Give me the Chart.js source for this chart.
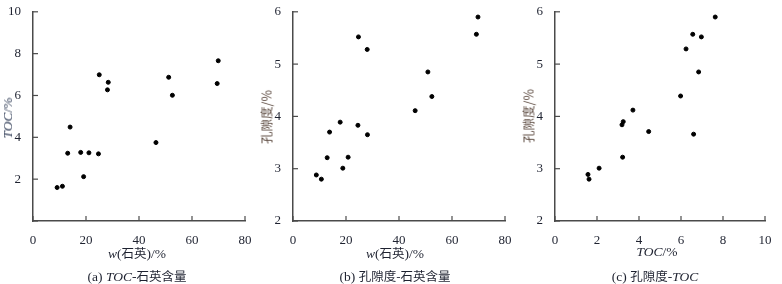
<!DOCTYPE html>
<html><head><meta charset="utf-8">
<script src="https://cdn.jsdelivr.net/npm/chart.js@4/dist/chart.umd.min.js"></script>
<style>
html,body{margin:0;padding:0;background:#fff;}
#wrap{position:relative;width:782px;height:284px;overflow:hidden;font-family:"Liberation Serif","Noto Sans CJK SC",serif;}
canvas{position:absolute;top:0;}
.t{position:absolute;white-space:nowrap;font-size:13.5px;color:#1e2230;transform:translate(-50%,-50%);}
.yt{position:absolute;white-space:nowrap;font-size:13.5px;transform:translate(-50%,-50%) rotate(-90deg);}
.cn{font-family:"Noto Sans CJK SC",sans-serif;font-size:12.5px;}
i{font-style:italic;}
</style></head><body>
<div id="wrap">
<canvas id="ca" width="260" height="284" style="left:0px"></canvas>
<canvas id="cb" width="260" height="284" style="left:260px"></canvas>
<canvas id="cc" width="267" height="284" style="left:515px"></canvas>

<div class="yt" style="left:8px;top:118px;color:#34405a"><i>TOC</i>/%</div>
<div class="yt cn" style="left:266px;top:117px;color:#5e4c42">孔隙度/%</div>
<div class="yt cn" style="left:528px;top:116px;color:#5e4c42">孔隙度/%</div>

<div class="t" style="left:137px;top:252px"><i>w</i>(<span class="cn">石英</span>)/%</div>
<div class="t" style="left:395px;top:252px"><i>w</i>(<span class="cn">石英</span>)/%</div>
<div class="t" style="left:657px;top:252px"><i>TOC</i>/%</div>

<div class="t" style="left:137px;top:275px">(a) <i>TOC</i>-<span class="cn">石英含量</span></div>
<div class="t" style="left:395px;top:275px">(b) <span class="cn">孔隙度-石英含量</span></div>
<div class="t" style="left:655px;top:275px">(c) <span class="cn">孔隙度</span>-<i>TOC</i></div>
</div>
<script>
// Panel (a): TOC vs quartz content
const quartzA = [9.1, 11.1, 13.1, 14.0, 18.0, 19.1, 21.1, 24.7, 25.0, 28.4, 28.1, 46.4, 51.2, 52.6, 69.5, 69.9];
const tocA    = [1.60, 1.66, 3.24, 4.49, 3.28, 2.12, 3.26, 3.21, 6.99, 6.63, 6.27, 3.75, 6.87, 6.01, 6.57, 7.66];
// Panel (b): porosity vs quartz content
const quartzB = [8.8, 10.7, 12.9, 13.8, 17.8, 18.8, 20.8, 24.5, 24.7, 28.0, 28.1, 46.1, 50.9, 52.4, 69.2, 69.8];
const porB    = [2.88, 2.80, 3.21, 3.70, 3.89, 3.01, 3.22, 3.83, 5.52, 5.28, 3.65, 4.11, 4.85, 4.38, 5.57, 5.90];
// Panel (c): porosity vs TOC
const tocC    = [1.57, 1.62, 2.10, 3.22, 3.19, 3.25, 3.71, 4.46, 5.98, 6.24, 6.56, 6.97, 6.84, 6.60, 7.63];
const porC    = [2.89, 2.80, 3.01, 3.22, 3.84, 3.90, 4.12, 3.71, 4.39, 5.29, 5.57, 5.52, 4.85, 3.66, 5.90];
// Axis ranges / tick steps
const xRangeA = [0, 80, 20], yRangeA = [0, 10, 2];
const xRangeB = [0, 80, 20], yRangeB = [2, 6, 1];
const xRangeC = [0, 10, 2],  yRangeC = [2, 6, 1];

const AXIS = '#4a4a4a';
const innerTicks = {
  id: 'innerTicks',
  afterDraw(chart) {
    const ctx = chart.ctx, a = chart.chartArea;
    ctx.save();
    ctx.strokeStyle = AXIS; ctx.lineWidth = 1.2;
    const xs = chart.scales.x, ys = chart.scales.y;
    xs.ticks.forEach(t => {
      const p = xs.getPixelForValue(t.value);
      ctx.beginPath(); ctx.moveTo(p, a.bottom); ctx.lineTo(p, a.bottom - 5); ctx.stroke();
    });
    ys.ticks.forEach(t => {
      const p = ys.getPixelForValue(t.value);
      ctx.beginPath(); ctx.moveTo(a.left, p); ctx.lineTo(a.left + 5, p); ctx.stroke();
    });
    ctx.restore();
  }
};

function make(id, xs, ys, xr, yr, leftW, rightPad, hideY0) {
  const data = xs.map((v, i) => ({x: v, y: ys[i]}));
  const font = {family: '"Liberation Serif", serif', size: 13};
  new Chart(document.getElementById(id), {
    type: 'scatter',
    data: {datasets: [{data, backgroundColor: '#000', borderColor: '#000', pointRadius: 2, pointHoverRadius: 2, clip: false}]},
    options: {
      responsive: false, animation: false,
      layout: {padding: {top: 10, right: rightPad, left: 0, bottom: 0}},
      plugins: {legend: {display: false}, tooltip: {enabled: false}},
      scales: {
        x: {type: 'linear', min: xr[0], max: xr[1],
            ticks: {stepSize: xr[2], color: '#1e2230', font, padding: 4, maxRotation: 0},
            grid: {display: false},
            border: {display: true, color: AXIS, width: 1.5},
            afterFit: s => { s.height = 63; }},
        y: {type: 'linear', min: yr[0], max: yr[1],
            ticks: {stepSize: yr[2], color: '#1e2230', font, padding: 4,
                    callback: v => (hideY0 && v === 0) ? '' : v},
            grid: {display: false},
            border: {display: true, color: AXIS, width: 1.5},
            afterFit: s => { s.width = leftW; }}
      }
    },
    plugins: [innerTicks]
  });
}
make('ca', quartzA, tocA, xRangeA, yRangeA, 33, 15, true);
make('cb', quartzB, porB, xRangeB, yRangeB, 33, 15, false);
make('cc', tocC, porC, xRangeC, yRangeC, 40, 17, false);
</script>
</body></html>
